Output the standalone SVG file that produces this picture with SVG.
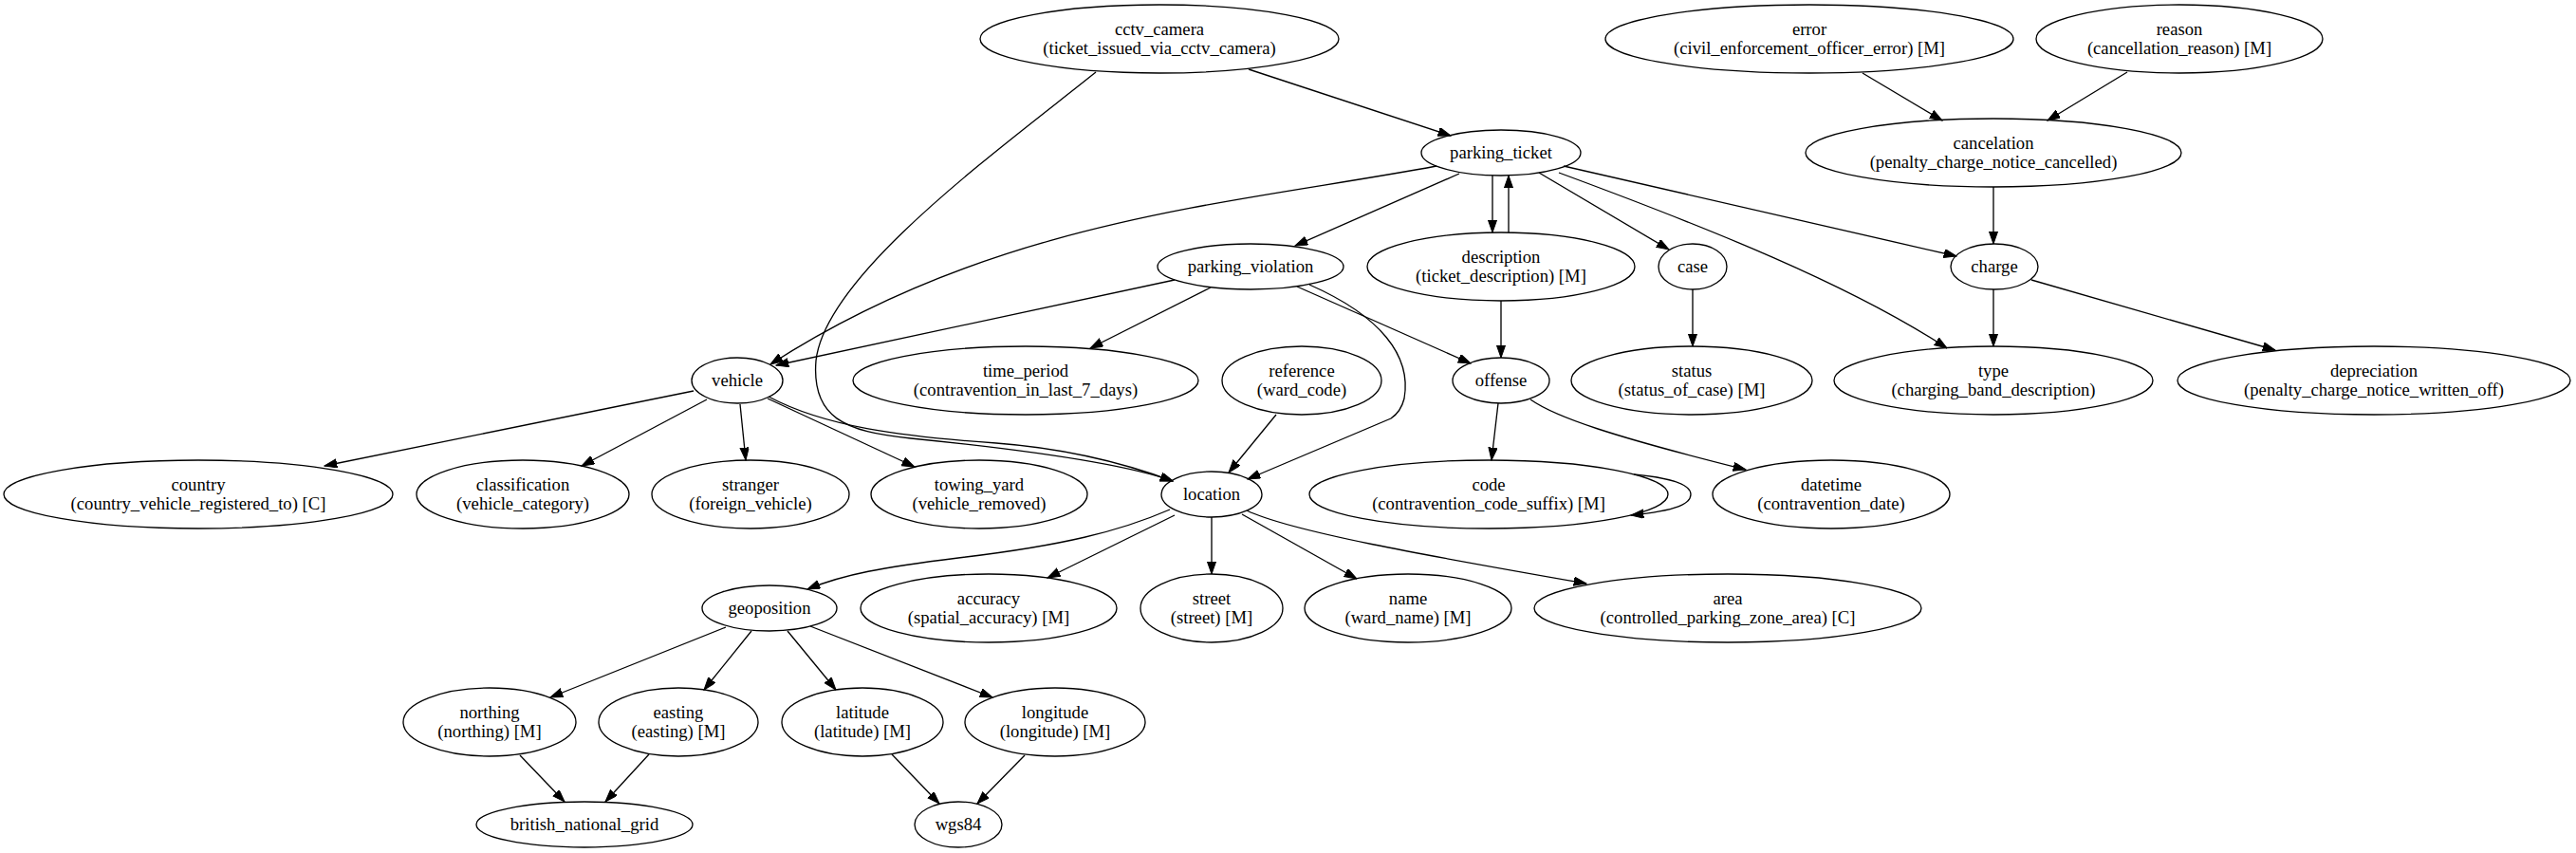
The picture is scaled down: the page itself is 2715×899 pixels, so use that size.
<svg xmlns="http://www.w3.org/2000/svg" width="2715" height="899" viewBox="0 0 2715 899">
<style>
.n ellipse{fill:none;stroke:#000;stroke-width:1.33}
.n text{font-family:"Liberation Serif","Times New Roman",serif;font-size:18.67px;text-anchor:middle;fill:#000}
#edges path{fill:none;stroke:#000;stroke-width:1.33;marker-end:url(#ah)}
</style>
<defs>
<marker id="ah" markerUnits="userSpaceOnUse" markerWidth="14" markerHeight="10" refX="13.3" refY="4.67" orient="auto" viewBox="0 0 14 10">
<path d="M0,0 L13.3,4.67 L0,9.33 z" fill="#000" stroke="#000" stroke-width="1"/>
</marker>
</defs>
<rect width="2715" height="899" fill="#fff"/>
<g id="edges">
<path d="M1316,73 L1529,143"/>
<path d="M1155,76 C1050,160 870,290 860,380 C855,440 890,455 960,462 C1060,472 1180,487 1236,507"/>
<path d="M1963,77 L2047,127"/>
<path d="M2242,76 L2158,127"/>
<path d="M2101,197 L2101,257"/>
<path d="M1514,175 C1300,215 1050,230 812,384"/>
<path d="M1538,183 L1365,259"/>
<path d="M1573,185 L1573,245"/>
<path d="M1590,245 L1590,185"/>
<path d="M1622,182 L1759,263"/>
<path d="M1643,182 C1800,240 1950,300 2052,367"/>
<path d="M1648,175 L2062,270"/>
<path d="M1238,295 L818,385"/>
<path d="M1276,303 L1149,367"/>
<path d="M1367,302 L1550,383"/>
<path d="M1380,300 C1455,333 1488,375 1480,420 C1477,432 1472,437 1466,441 L1315,505"/>
<path d="M1582,317 L1582,377"/>
<path d="M1784,305 L1784,365"/>
<path d="M2101,305 L2101,365"/>
<path d="M2141,295 L2398,369"/>
<path d="M1345,437 L1295,498"/>
<path d="M1579,425 L1572,485"/>
<path d="M1613,421 C1640,440 1700,460 1840,495"/>
<path d="M1722,500 C1765,504 1782,512 1782,521 C1782,531 1768,538 1719,543"/>
<path d="M731,412 L342,491"/>
<path d="M745,421 L613,491"/>
<path d="M780,426 L786,485"/>
<path d="M809,420 L964,492"/>
<path d="M810,418 C870,450 950,460 1050,467 C1130,473 1190,490 1236,507"/>
<path d="M1233,537 C1180,560 1120,575 1010,588 C930,598 890,605 851,621"/>
<path d="M1238,543 L1104,609"/>
<path d="M1277,545 L1277,605"/>
<path d="M1309,542 L1430,610"/>
<path d="M1314,538 C1360,560 1500,585 1672,615"/>
<path d="M765,661 L580,735"/>
<path d="M792,665 L742,727"/>
<path d="M830,665 L881,727"/>
<path d="M854,660 L1046,735"/>
<path d="M548,796 L595,845"/>
<path d="M684,795 L638,845"/>
<path d="M940,795 L990,847"/>
<path d="M1080,796 L1030,847"/>
</g>
<g id="n-cctv_camera" class="n"><ellipse cx="1222" cy="41" rx="189" ry="36"/><text x="1222" y="36.6">cctv_camera</text><text x="1222" y="56.6">(ticket_issued_via_cctv_camera)</text></g>
<g id="n-error" class="n"><ellipse cx="1907" cy="41" rx="215" ry="36"/><text x="1907" y="36.6">error</text><text x="1907" y="56.6">(civil_enforcement_officer_error) [M]</text></g>
<g id="n-reason" class="n"><ellipse cx="2297" cy="41" rx="151" ry="36"/><text x="2297" y="36.6">reason</text><text x="2297" y="56.6">(cancellation_reason) [M]</text></g>
<g id="n-parking_ticket" class="n"><ellipse cx="1582" cy="161" rx="84" ry="24"/><text x="1582" y="166.6">parking_ticket</text></g>
<g id="n-cancelation" class="n"><ellipse cx="2101" cy="161" rx="198" ry="36"/><text x="2101" y="156.6">cancelation</text><text x="2101" y="176.6">(penalty_charge_notice_cancelled)</text></g>
<g id="n-parking_violation" class="n"><ellipse cx="1318" cy="281" rx="98" ry="24"/><text x="1318" y="286.6">parking_violation</text></g>
<g id="n-description" class="n"><ellipse cx="1582" cy="281" rx="141" ry="36"/><text x="1582" y="276.6">description</text><text x="1582" y="296.6">(ticket_description) [M]</text></g>
<g id="n-case" class="n"><ellipse cx="1784" cy="281" rx="36" ry="24"/><text x="1784" y="286.6">case</text></g>
<g id="n-charge" class="n"><ellipse cx="2102" cy="281" rx="46" ry="24"/><text x="2102" y="286.6">charge</text></g>
<g id="n-vehicle" class="n"><ellipse cx="777" cy="401" rx="48" ry="24"/><text x="777" y="406.6">vehicle</text></g>
<g id="n-time_period" class="n"><ellipse cx="1081" cy="401" rx="182" ry="36"/><text x="1081" y="396.6">time_period</text><text x="1081" y="416.6">(contravention_in_last_7_days)</text></g>
<g id="n-reference" class="n"><ellipse cx="1372" cy="401" rx="84" ry="36"/><text x="1372" y="396.6">reference</text><text x="1372" y="416.6">(ward_code)</text></g>
<g id="n-offense" class="n"><ellipse cx="1582" cy="401" rx="51" ry="24"/><text x="1582" y="406.6">offense</text></g>
<g id="n-status" class="n"><ellipse cx="1783" cy="401" rx="127" ry="36"/><text x="1783" y="396.6">status</text><text x="1783" y="416.6">(status_of_case) [M]</text></g>
<g id="n-type" class="n"><ellipse cx="2101" cy="401" rx="168" ry="36"/><text x="2101" y="396.6">type</text><text x="2101" y="416.6">(charging_band_description)</text></g>
<g id="n-depreciation" class="n"><ellipse cx="2502" cy="401" rx="207" ry="36"/><text x="2502" y="396.6">depreciation</text><text x="2502" y="416.6">(penalty_charge_notice_written_off)</text></g>
<g id="n-country" class="n"><ellipse cx="209" cy="521" rx="205" ry="36"/><text x="209" y="516.6">country</text><text x="209" y="536.6">(country_vehicle_registered_to) [C]</text></g>
<g id="n-classification" class="n"><ellipse cx="551" cy="521" rx="112" ry="36"/><text x="551" y="516.6">classification</text><text x="551" y="536.6">(vehicle_category)</text></g>
<g id="n-stranger" class="n"><ellipse cx="791" cy="521" rx="104" ry="36"/><text x="791" y="516.6">stranger</text><text x="791" y="536.6">(foreign_vehicle)</text></g>
<g id="n-towing_yard" class="n"><ellipse cx="1032" cy="521" rx="114" ry="36"/><text x="1032" y="516.6">towing_yard</text><text x="1032" y="536.6">(vehicle_removed)</text></g>
<g id="n-location" class="n"><ellipse cx="1277" cy="521" rx="53" ry="24"/><text x="1277" y="526.6">location</text></g>
<g id="n-code" class="n"><ellipse cx="1569" cy="521" rx="189" ry="36"/><text x="1569" y="516.6">code</text><text x="1569" y="536.6">(contravention_code_suffix) [M]</text></g>
<g id="n-datetime" class="n"><ellipse cx="1930" cy="521" rx="125" ry="36"/><text x="1930" y="516.6">datetime</text><text x="1930" y="536.6">(contravention_date)</text></g>
<g id="n-geoposition" class="n"><ellipse cx="811" cy="641" rx="71" ry="24"/><text x="811" y="646.6">geoposition</text></g>
<g id="n-accuracy" class="n"><ellipse cx="1042" cy="641" rx="135" ry="36"/><text x="1042" y="636.6">accuracy</text><text x="1042" y="656.6">(spatial_accuracy) [M]</text></g>
<g id="n-street" class="n"><ellipse cx="1277" cy="641" rx="75" ry="36"/><text x="1277" y="636.6">street</text><text x="1277" y="656.6">(street) [M]</text></g>
<g id="n-name" class="n"><ellipse cx="1484" cy="641" rx="109" ry="36"/><text x="1484" y="636.6">name</text><text x="1484" y="656.6">(ward_name) [M]</text></g>
<g id="n-area" class="n"><ellipse cx="1821" cy="641" rx="204" ry="36"/><text x="1821" y="636.6">area</text><text x="1821" y="656.6">(controlled_parking_zone_area) [C]</text></g>
<g id="n-northing" class="n"><ellipse cx="516" cy="761" rx="91" ry="36"/><text x="516" y="756.6">northing</text><text x="516" y="776.6">(northing) [M]</text></g>
<g id="n-easting" class="n"><ellipse cx="715" cy="761" rx="84" ry="36"/><text x="715" y="756.6">easting</text><text x="715" y="776.6">(easting) [M]</text></g>
<g id="n-latitude" class="n"><ellipse cx="909" cy="761" rx="85" ry="36"/><text x="909" y="756.6">latitude</text><text x="909" y="776.6">(latitude) [M]</text></g>
<g id="n-longitude" class="n"><ellipse cx="1112" cy="761" rx="95" ry="36"/><text x="1112" y="756.6">longitude</text><text x="1112" y="776.6">(longitude) [M]</text></g>
<g id="n-british_national_grid" class="n"><ellipse cx="616" cy="869" rx="114" ry="24"/><text x="616" y="874.6">british_national_grid</text></g>
<g id="n-wgs84" class="n"><ellipse cx="1010" cy="869" rx="46" ry="24"/><text x="1010" y="874.6">wgs84</text></g>
</svg>
